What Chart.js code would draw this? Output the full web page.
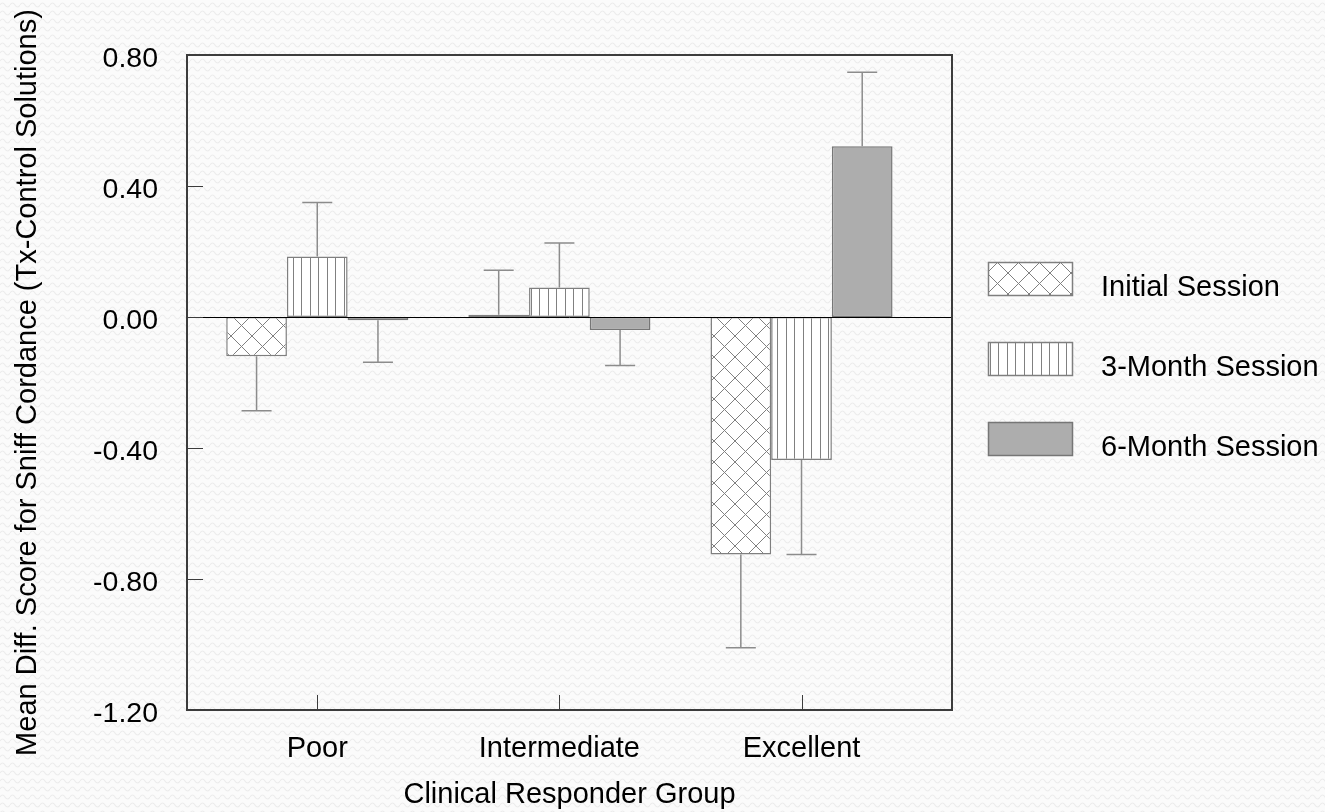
<!DOCTYPE html>
<html>
<head>
<meta charset="utf-8">
<title>Sniff Cordance by Clinical Responder Group</title>
<script src="https://cdn.jsdelivr.net/npm/chart.js@4/dist/chart.umd.min.js"></script>
<style>
  html, body { margin: 0; padding: 0; }
  body {
    width: 1325px; height: 812px; overflow: hidden;
    background-color: #fbfbfb;
    background-image: url("data:image/svg+xml;utf8,<svg xmlns='http://www.w3.org/2000/svg' width='10' height='8'><path d='M0 5 Q2.5 1 5 5 T10 5' fill='none' stroke='%23ececec' stroke-width='1.2'/></svg>");
  }
  canvas { display: block; }
</style>
</head>
<body>
<canvas id="chart" width="1325" height="812"></canvas>
<script>
// Responder groups along the x axis
const groups = ['Poor', 'Intermediate', 'Excellent'];
// Session series: mean difference scores (Tx - Control)
const sessions = ['Initial Session', '3-Month Session', '6-Month Session'];
const initialMeans = [-0.12, 0.007, -0.725];
const threeMonthMeans = [0.185, 0.09, -0.437];
const sixMonthMeans = [-0.01, -0.04, 0.521];
// Standard errors drawn as one-sided whiskers
const initialErr = [0.166, 0.136, 0.285];
const threeMonthErr = [0.165, 0.136, 0.288];
const sixMonthErr = [0.128, 0.108, 0.226];
// Value axis ticks
const yTicks = [-1.2, -0.8, -0.4, 0.0, 0.4, 0.8];

const FONT = 'Liberation Sans, Arial, Helvetica, sans-serif';

function crossHatch() {
  const s = 21;
  const c = document.createElement('canvas');
  c.width = s; c.height = s;
  const g = c.getContext('2d');
  g.fillStyle = '#ffffff';
  g.fillRect(0, 0, s, s);
  g.strokeStyle = '#808080';
  g.lineWidth = 1;
  g.beginPath();
  g.moveTo(-1, -1); g.lineTo(s + 1, s + 1);
  g.moveTo(s + 1, -1); g.lineTo(-1, s + 1);
  g.stroke();
  return g.createPattern(c, 'repeat');
}

function verticalHatch() {
  const c = document.createElement('canvas');
  c.width = 17; c.height = 4;
  const g = c.getContext('2d');
  g.fillStyle = '#ffffff';
  g.fillRect(0, 0, 17, 4);
  g.strokeStyle = '#808080';
  g.lineWidth = 1;
  g.beginPath();
  g.moveTo(4.5, 0); g.lineTo(4.5, 4);
  g.moveTo(12.5, 0); g.lineTo(12.5, 4);
  g.stroke();
  return g.createPattern(c, 'repeat');
}

const toPoints = vals => vals.map((v, i) => ({ x: i + 1, y: v }));

const datasets = [
  { label: sessions[0], data: toPoints(initialMeans), errors: initialErr,
    backgroundColor: crossHatch(), borderColor: '#7f7f7f' },
  { label: sessions[1], data: toPoints(threeMonthMeans), errors: threeMonthErr,
    backgroundColor: verticalHatch(), borderColor: '#7f7f7f' },
  { label: sessions[2], data: toPoints(sixMonthMeans), errors: sixMonthErr,
    backgroundColor: '#adadad', borderColor: '#767676' }
].map(d => Object.assign(d, { borderWidth: 1.5, borderSkipped: false,
  categoryPercentage: 0.752, barPercentage: 1.0 }));

// One-sided error whiskers, pointing away from zero
const errorBars = {
  id: 'errorBars',
  afterDatasetsDraw(chart) {
    const { ctx } = chart;
    const y = chart.scales.y;
    ctx.save();
    ctx.strokeStyle = '#8c8c8c';
    ctx.lineWidth = 1.5;
    chart.data.datasets.forEach((ds, di) => {
      const meta = chart.getDatasetMeta(di);
      meta.data.forEach((bar, i) => {
        const v = ds.data[i].y;
        const end = v + (v < 0 ? -ds.errors[i] : ds.errors[i]);
        const y0 = y.getPixelForValue(v);
        const y1 = y.getPixelForValue(end);
        ctx.beginPath();
        ctx.moveTo(bar.x, y0); ctx.lineTo(bar.x, y1);
        ctx.moveTo(bar.x - 15, y1); ctx.lineTo(bar.x + 15, y1);
        ctx.stroke();
      });
    });
    ctx.restore();
  }
};

// Plot frame, inward tick marks and the zero reference line
const frame = {
  id: 'frame',
  afterDatasetsDraw(chart) {
    const { ctx, chartArea: a, scales } = chart;
    ctx.save();
    ctx.strokeStyle = '#000000';
    ctx.lineWidth = 1;
    const z = Math.round(scales.y.getPixelForValue(0)) + 0.5;
    ctx.beginPath();
    ctx.moveTo(a.left, z); ctx.lineTo(a.right, z);
    ctx.stroke();
    ctx.strokeStyle = '#3c3c3c';
    ctx.lineWidth = 2;
    ctx.strokeRect(a.left, a.top, a.right - a.left, a.bottom - a.top);
    ctx.lineWidth = 1;
    ctx.beginPath();
    yTicks.forEach(t => {
      const p = Math.round(scales.y.getPixelForValue(t)) + 0.5;
      ctx.moveTo(a.left, p); ctx.lineTo(a.left + 16, p);
    });
    groups.forEach((g, i) => {
      const p = Math.round(scales.x.getPixelForValue(i + 1)) + 0.5;
      ctx.moveTo(p, a.bottom); ctx.lineTo(p, a.bottom - 15);
    });
    ctx.stroke();
    ctx.restore();
  }
};

// Session key on the right-hand side
const sessionKey = {
  id: 'sessionKey',
  afterDraw(chart) {
    const { ctx } = chart;
    ctx.save();
    chart.data.datasets.forEach((ds, i) => {
      const bx = 988, by = 262 + i * 80, bw = 85, bh = 34;
      ctx.fillStyle = ds.backgroundColor;
      ctx.fillRect(bx, by, bw, bh);
      ctx.strokeStyle = ds.borderColor;
      ctx.lineWidth = 1.5;
      ctx.strokeRect(bx + 0.5, by + 0.5, bw - 1, bh - 1);
      ctx.fillStyle = '#000000';
      ctx.font = '29px ' + FONT;
      ctx.textBaseline = 'alphabetic';
      ctx.textAlign = 'left';
      ctx.fillText(ds.label, 1101, by + bh);
    });
    ctx.restore();
  }
};

new Chart(document.getElementById('chart'), {
  type: 'bar',
  data: { datasets },
  plugins: [errorBars, frame, sessionKey],
  options: {
    responsive: false,
    devicePixelRatio: 1,
    animation: false,
    layout: { padding: { top: 55, right: 373, left: 0, bottom: 0 } },
    plugins: { legend: { display: false }, tooltip: { enabled: false } },
    scales: {
      x: {
        type: 'linear',
        min: 0.462,
        max: 3.6215,
        offset: false,
        grid: { display: false, drawTicks: false },
        border: { display: false },
        afterBuildTicks: s => { s.ticks = groups.map((g, i) => ({ value: i + 1 })); },
        afterFit: s => { s.height = 102; },
        ticks: {
          color: '#000000',
          font: { family: FONT, size: 29 },
          padding: 22,
          maxRotation: 0,
          callback: v => groups[v - 1]
        },
        title: {
          display: true,
          text: 'Clinical Responder Group',
          color: '#000000',
          font: { family: FONT, size: 29 },
          padding: { top: 0, bottom: 0 }
        }
      },
      y: {
        min: -1.2,
        max: 0.8,
        grid: { display: false, drawTicks: false },
        border: { display: false },
        afterBuildTicks: s => { s.ticks = yTicks.map(v => ({ value: v })); },
        afterFit: s => { s.width = 187; },
        ticks: {
          color: '#000000',
          font: { family: FONT, size: 28.5 },
          padding: 29,
          labelOffset: 4,
          callback: v => v.toFixed(2)
        },
        title: {
          display: true,
          text: 'Mean Diff. Score for Sniff Cordance (Tx-Control Solutions)',
          color: '#000000',
          font: { family: FONT, size: 29 },
          padding: { top: 11, bottom: 0 }
        }
      }
    }
  }
});
</script>
</body>
</html>
